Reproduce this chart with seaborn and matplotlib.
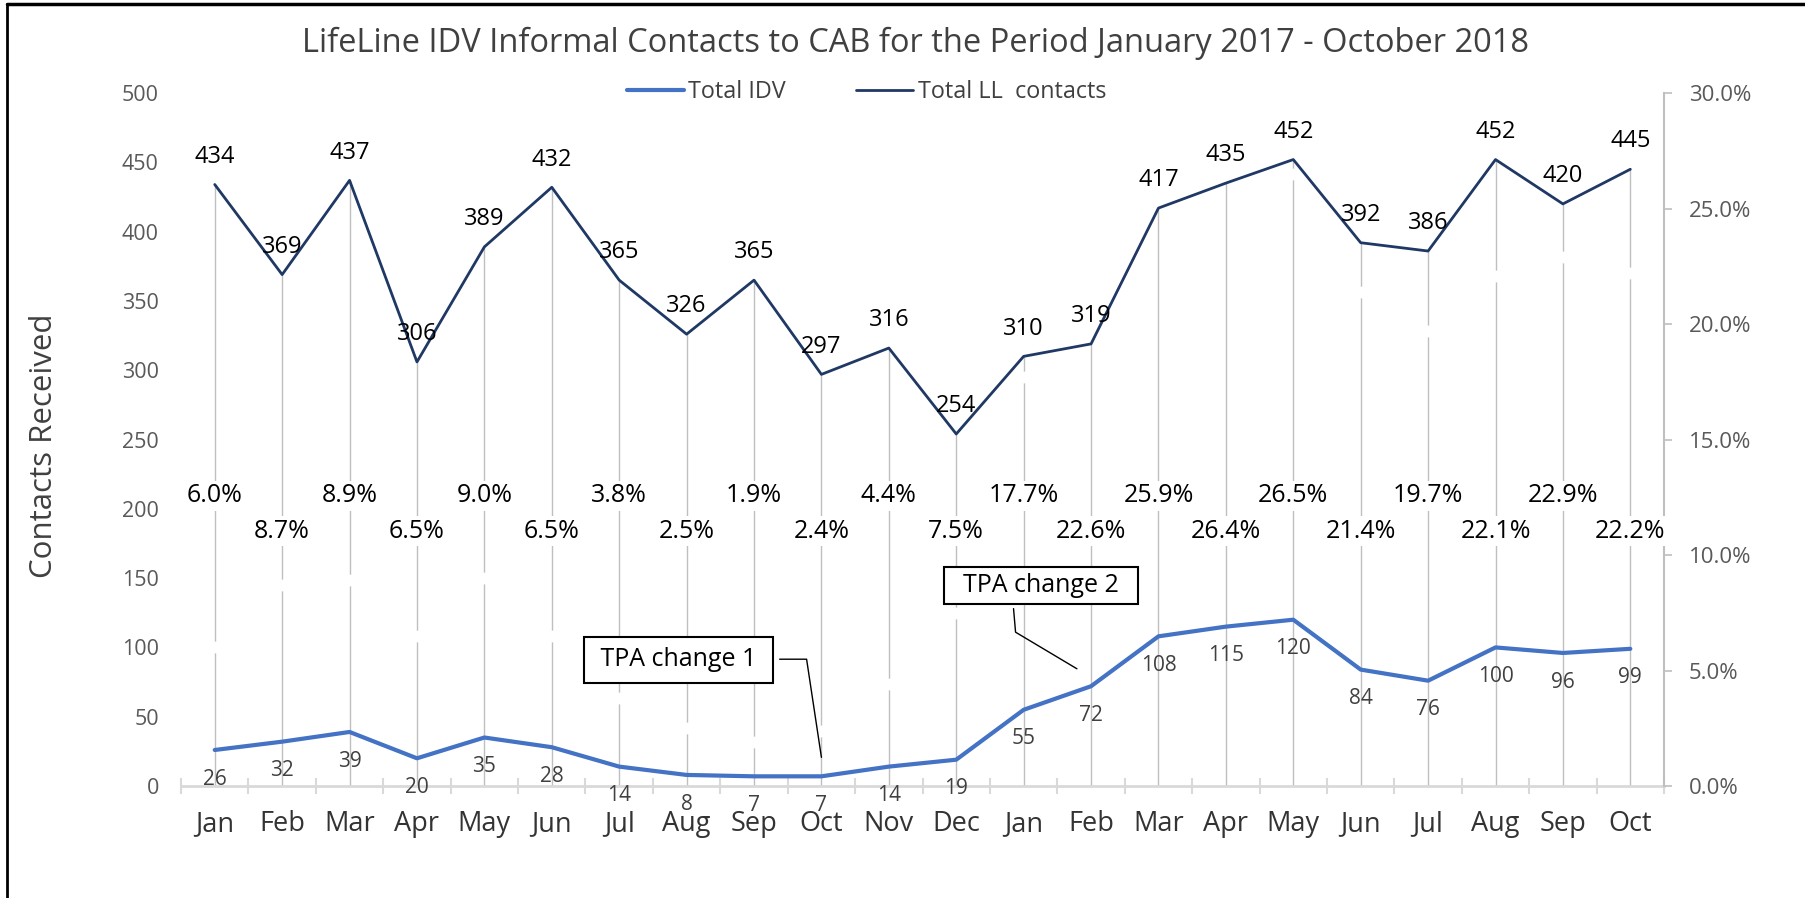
import numpy as np
import pandas as pd
import matplotlib.pyplot as plt
import seaborn as sns
from matplotlib.lines import Line2D
from matplotlib.ticker import FixedLocator, PercentFormatter

# Monthly data, January 2017 - October 2018
months = ['Jan', 'Feb', 'Mar', 'Apr', 'May', 'Jun', 'Jul', 'Aug', 'Sep', 'Oct', 'Nov', 'Dec',
          'Jan', 'Feb', 'Mar', 'Apr', 'May', 'Jun', 'Jul', 'Aug', 'Sep', 'Oct']
total_idv = [26, 32, 39, 20, 35, 28, 14, 8, 7, 7, 14, 19, 55, 72, 108, 115, 120, 84, 76, 100, 96, 99]
total_ll = [434, 369, 437, 306, 389, 432, 365, 326, 365, 297, 316, 254,
            310, 319, 417, 435, 452, 392, 386, 452, 420, 445]
pct_idv = [6.0, 8.7, 8.9, 6.5, 9.0, 6.5, 3.8, 2.5, 1.9, 2.4, 4.4, 7.5,
           17.7, 22.6, 25.9, 26.4, 26.5, 21.4, 19.7, 22.1, 22.9, 22.2]

df = pd.DataFrame({'pos': np.arange(len(months)), 'month': months,
                   'idv': total_idv, 'll': total_ll, 'pct': pct_idv})

sns.set_theme(style='white')
plt.rcParams['font.family'] = ['Open Sans', 'DejaVu Sans']

IDV_COLOR = '#4472C4'
LL_COLOR = '#1F3864'
GRID = '#BFBFBF'

fig = plt.figure(figsize=(18.05, 8.98), dpi=100)
ax = fig.add_axes([0.1003, 0.1247, 0.8216, 0.7717])
ax2 = ax.twinx()
ax3 = ax.twinx()

# drop lines from LL points to the axis
ax.vlines(df['pos'], 0, df['ll'], color=GRID, lw=1, zorder=1)
ax.set_xlim(-0.5, len(months) - 0.5)
ax.set_ylim(0, 500)
ax.set_yticks(range(0, 501, 50))
ax.set_xticks(df['pos'])
ax.set_xticklabels(months)
ax.xaxis.set_minor_locator(FixedLocator(np.arange(-0.5, len(months), 1)))
ax.tick_params(axis='x', which='major', length=0, pad=17.5, labelsize=19.5, labelcolor='#333333')
ax.tick_params(axis='x', which='minor', direction='inout', length=11, width=1.5,
               color='#D9D9D9', bottom=True)
ax.tick_params(axis='y', length=0, pad=16, labelsize=15.5, labelcolor='#595959')
for s in ['left', 'top', 'right']:
    ax.spines[s].set_visible(False)
ax.spines['bottom'].set_color('#D9D9D9')
ax.spines['bottom'].set_linewidth(2)
ax.grid(False)

# percentage series on secondary axis (hidden white markers)
ax2.plot(df['pos'], df['pct'], ls='none', marker='o', ms=7.5, mfc='white', mec='white')
ax2.set_ylim(0, 30)
ax2.set_yticks(np.arange(0, 30.1, 5))
ax2.yaxis.set_major_formatter(PercentFormatter(decimals=1))
ax2.tick_params(axis='y', direction='out', length=6, width=1.2, color=GRID,
                pad=12, labelsize=16, labelcolor='#595959')
for s in ['left', 'top', 'bottom']:
    ax2.spines[s].set_visible(False)
ax2.spines['right'].set_color(GRID)
ax2.spines['right'].set_linewidth(1.5)
ax2.grid(False)

# main lines
sns.lineplot(data=df, x='pos', y='idv', ax=ax3, color=IDV_COLOR, lw=3.0, label='Total IDV')
sns.lineplot(data=df, x='pos', y='ll', ax=ax3, color=LL_COLOR, lw=2.0, label='Total LL  contacts')
ax3.set_xlim(-0.5, len(months) - 0.5)
ax3.set_ylim(0, 500)
ax3.set_axis_off()
handles, labels = ax3.get_legend_handles_labels()
ax3.get_legend().remove()

# data labels
for i, r in df.iterrows():
    ax3.annotate(str(r['ll']), (r['pos'], r['ll']), xytext=(0, 20), textcoords='offset points',
                 ha='center', va='center', fontsize=17, color='black')
    ax3.annotate(str(r['idv']), (r['pos'], r['idv']), xytext=(0, -21), textcoords='offset points',
                 ha='center', va='center', fontsize=15, color='#404040')
    row = 209.5 if i % 2 == 0 else 184
    ax3.text(r['pos'], row, f"{r['pct']:.1f}%", ha='center', va='center', fontsize=18,
             color='black', bbox=dict(boxstyle='square,pad=0.1', fc='white', ec='none'))

# callouts
box = dict(boxstyle='square,pad=0.42', fc='white', ec='black', lw=1.5)
ax3.text(6.88, 91.2, ' TPA change 1 ', ha='center', va='center', fontsize=18, color='black', bbox=box)
ax3.plot([8.38, 8.78, 9.0], [91.5, 91.5, 20.7], color='black', lw=1)
box2 = dict(boxstyle='square,pad=0.25', fc='white', ec='black', lw=1.5)
ax3.text(12.26, 144.8, '  TPA change 2  ', ha='center', va='center', fontsize=18, color='black', bbox=box2)
ax3.plot([11.85, 11.88, 12.79], [128, 111, 84.6], color='black', lw=1)

fig.legend(handles, labels, loc='center', bbox_to_anchor=(0.480, 0.897), ncol=2, frameon=False,
           fontsize=16.8, labelcolor='#404040', handlelength=2.45, handletextpad=0.2, columnspacing=3.0)

fig.text(0.507, 0.952, 'LifeLine IDV Informal Contacts to CAB for the Period January 2017 - October 2018',
         ha='center', va='center', fontsize=23.5, color='#404040')
fig.text(0.0244, 0.503, 'Contacts Received', rotation=90, ha='center', va='center',
         fontsize=22.5, color='#404040')

# frame (top and left edges)
fig.add_artist(Line2D([0.0039, 1], [0.9955, 0.9955], color='black', lw=2.5, transform=fig.transFigure))
fig.add_artist(Line2D([0.0039, 0.0039], [0, 0.9955], color='black', lw=2, transform=fig.transFigure))

fig.savefig('out.png', dpi=100, facecolor='white')
